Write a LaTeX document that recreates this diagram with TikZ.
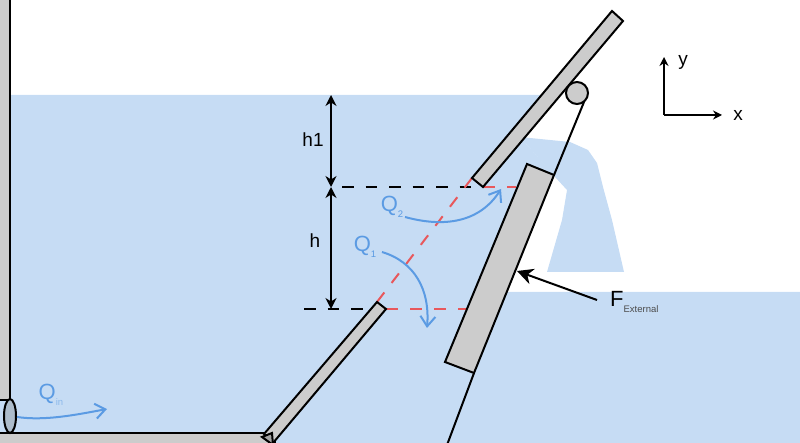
\documentclass[tikz,border=0pt]{standalone}
\usepackage{fontspec}
\setmainfont{Liberation Sans}
\usetikzlibrary{arrows.meta}

\definecolor{water}{HTML}{C6DCF4}
\definecolor{plate}{HTML}{CCCCCC}
\definecolor{flow}{HTML}{5B9BE3}
\definecolor{seal}{HTML}{E8585C}

\newcommand{\subtxt}[1]{\raisebox{-6pt}{\fontsize{9.5}{9.5}\selectfont #1}}

\tikzset{
  platebox/.style={fill=plate,draw=black,line width=2pt,line join=miter},
  flowline/.style={flow,line width=2pt,-{Straight Barb[length=10pt,width=15pt,line width=2pt]}},
  flowlabel/.style={flow,font=\fontsize{22}{22}\selectfont,inner sep=0pt},
  blacklabel/.style={black,font=\fontsize{19}{19}\selectfont,inner sep=0pt},
  dimline/.style={black,line width=1.8pt,{Stealth[length=11pt,width=11pt]}-{Stealth[length=11pt,width=11pt]}},
  levelline/.style={black,line width=2pt,dash pattern=on 11.5pt off 12pt},
  sealline/.style={seal,line width=2pt,dash pattern=on 12pt off 12pt}
}

\begin{document}
\begin{tikzpicture}[x=1pt,y=-1pt]
\useasboundingbox (0,0) rectangle (800,443);
\clip (0,0) rectangle (800,443);

% water
\fill[water] (0,95) -- (542,95) -- (520,137) -- (554,175) -- (507,292) -- (800,292) -- (800,443) -- (0,443) -- cycle;
\fill[water] (520,137) -- (570,142) -- (588,150) -- (597,163) -- (603,187) -- (612,220) -- (624,272) -- (547,272) -- (562,220) -- (567,190) -- (555,177) -- cycle;

% levels
\draw[levelline] (342,187) -- (472,187);
\draw[levelline] (304,309) -- (378,309);
\draw[sealline] (483,187) -- (516,187);
\draw[sealline] (386,309) -- (468,309);
\draw[sealline] (377,302) -- (472,178);

% walls
\draw[platebox] (-3,-3) rectangle (10,400);
\draw[platebox] (-3,433) rectangle (275,450);
\draw[line width=2pt,fill=water!65!gray] (10,416) ellipse (6 and 17);

% gates
\draw[platebox] (377,302) -- (386,309) -- (273,443) -- (264,434) -- cycle;
\draw[platebox,fill=plate!80!black] (262,437) -- (272,433) -- (273,445) -- cycle;
\draw[platebox] (612,11) -- (623,21) -- (483,187) -- (472,178) -- cycle;
\draw[platebox] (527,164) -- (554,175) -- (474,373) -- (445,362) -- cycle;
\draw[platebox] (577,93) circle (11);
\draw[black,line width=2pt] (584,102) -- (554,175);
\draw[black,line width=2pt] (474,373) -- (447,445);

% heights
\coordinate (surf) at (331,95);
\coordinate (mid) at (331,187);
\coordinate (low) at (331,309);
\draw[dimline] (surf) -- (mid);
\draw[dimline] (mid) -- (low);
\node[blacklabel] (hone) at (313,140) {h1};
\node[blacklabel] (htwo) at (315,241) {h};

% flows
\draw[flowline] (405,217) .. controls (445,228) and (480,222) .. (501,189);
\draw[flowline] (382,252) .. controls (415,262) and (430,290) .. (427,328);
\draw[flowline] (17,417) .. controls (45,421) and (75,415) .. (107,409);
\node[flowlabel] (qtwo) at (392,207) {Q\subtxt{2}};
\node[flowlabel] (qone) at (365,247) {Q\subtxt{1}};
\node[flowlabel] (qin) at (51,395) {Q\subtxt{\color{flow!70}in}};

% force
\node[blacklabel,anchor=west,font=\fontsize{22}{22}\selectfont] (fext) at (610,302) {F\subtxt{\color{black!70}External}};
\coordinate (fstart) at (597,300);
\coordinate (fend) at (517,271);
\draw[black,line width=2pt,-{Stealth[length=16pt,width=16pt,inset=5pt]}] (fstart) -- (fend);

% axes
\coordinate (orig) at (664,115);
\coordinate (ytip) at (664,57);
\coordinate (xtip) at (722,115);
\draw[black,line width=1.8pt,-{Stealth[length=9pt,width=9pt]}] (orig) -- (ytip);
\draw[black,line width=1.8pt,-{Stealth[length=9pt,width=9pt]}] (orig) -- (xtip);
\node[blacklabel] (ylab) at (683,62) {y};
\node[blacklabel] (xlab) at (738,115) {x};

\end{tikzpicture}
\end{document}
